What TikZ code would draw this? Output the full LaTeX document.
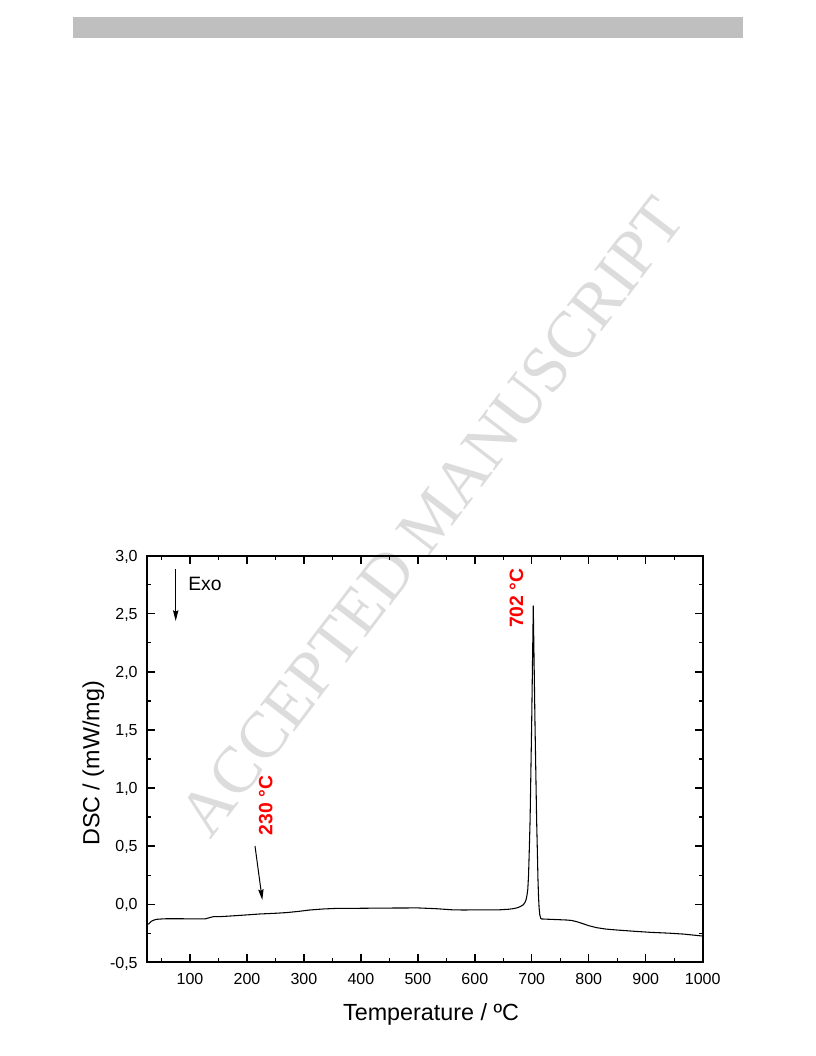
\documentclass[tikz,border=0pt]{standalone}
\usepackage{fontspec}
\setmainfont{Liberation Sans}
\newfontfamily\wmfont{Liberation Serif}
\usetikzlibrary{arrows.meta}
\definecolor{barg}{RGB}{191,191,191}
\definecolor{wmg}{RGB}{220,220,220}
\definecolor{lblred}{RGB}{255,0,0}
\tikzset{
  wmtext/.style={font=\wmfont\fontsize{49.5}{50}\selectfont, text=wmg, rotate=52.5, inner sep=0pt},
  frameline/.style={line width=1.45pt},
  tickline/.style={line width=1pt},
  curveline/.style={line width=0.8pt, line join=round},
  arrline/.style={line width=0.75pt, -{Stealth[length=8pt,width=4pt,inset=1pt]}},
  xtl/.style={font=\fontsize{12}{12}\selectfont, anchor=north, inner sep=0pt},
  ytl/.style={font=\fontsize{12}{12}\selectfont, anchor=base east, inner sep=0pt},
  axlabel/.style={font=\fontsize{17.5}{18}\selectfont, anchor=base, inner sep=0pt},
  redlabel/.style={font=\bfseries\fontsize{14.5}{15}\selectfont, text=lblred, rotate=90, anchor=base, inner sep=0pt},
  exolabel/.style={font=\fontsize{14.5}{15}\selectfont, anchor=base west, inner sep=0pt}
}
\begin{document}
\begin{tikzpicture}[x=0.75pt,y=-0.75pt]
\useasboundingbox (0,0) rectangle (816,1056);
\fill[white] (0,0) rectangle (816,1056);
% watermark
\node[wmtext] (wm) at (432,517) {ACCEPTED MANUSCRIPT};
% top bar
\fill[barg] (73,17) rectangle (743,38);
% plot in data coordinates
\begin{scope}[shift={(99.7725pt,-678.15pt)}, x={(0.42725pt,0pt)}, y={(0pt,87.1275pt)}]
  \draw[frameline] (24,-0.5) rectangle (1000,3);
  \foreach \t in {100,200,...,900} {
    \draw[tickline] (\t,-0.5) -- ++(0pt,6pt);
    \draw[tickline] (\t,3) -- ++(0pt,-6pt);
  }
  \foreach \t in {50,150,...,950} {
    \draw[tickline] (\t,-0.5) -- ++(0pt,3pt);
    \draw[tickline] (\t,3) -- ++(0pt,-3pt);
  }
  \foreach \v in {0,0.5,1,1.5,2,2.5} {
    \draw[tickline] (24,\v) -- ++(6pt,0pt);
    \draw[tickline] (1000,\v) -- ++(-6pt,0pt);
  }
  \foreach \v in {-0.25,0.25,0.75,1.25,1.75,2.25,2.75} {
    \draw[tickline] (24,\v) -- ++(3pt,0pt);
    \draw[tickline] (1000,\v) -- ++(-3pt,0pt);
  }
  \foreach \t in {100,200,...,1000} {
    \node[xtl] (xl\t) at ([yshift=-7.8pt]\t,-0.5) {\t};
  }
  \foreach \v/\l [count=\i] in {-0.5/{-0,5},0/{0,0},0.5/{0,5},1/{1,0},1.5/{1,5},2/{2,0},2.5/{2,5},3/{3,0}} {
    \node[ytl] (yl\i) at ([xshift=-6.6pt,yshift=-4.3pt]24,\v) {\l};
  }
  \draw[curveline] plot coordinates {
    (26.8,-0.173) (29,-0.162) (32.8,-0.145) (37,-0.136) (41.6,-0.130) (50,-0.127)
    (59,-0.125) (80,-0.125) (100,-0.126) (126,-0.127) (132,-0.119) (141,-0.107)
    (153,-0.107) (176,-0.100) (200,-0.092) (223,-0.084) (250,-0.078) (270,-0.072)
    (290,-0.062) (310,-0.050) (334,-0.041) (357,-0.036) (400,-0.035) (450,-0.033)
    (500,-0.032) (530,-0.038) (560,-0.048) (580,-0.050) (610,-0.048) (644,-0.048)
    (660,-0.043) (668,-0.038) (675,-0.030) (680,-0.020) (685,-0.005) (688,0.015)
    (690,0.04) (691.5,0.075) (693,0.13) (694.3,0.25) (695.5,0.45) (697,0.72)
    (699.8,1.56) (702.6,2.567) (705.6,1.56) (708.5,0.72) (709.8,0.45) (710.8,0.22)
    (711.8,0.07) (712.8,-0.03) (714,-0.09) (715.6,-0.121) (717.4,-0.127)
    (732,-0.130) (761,-0.136) (770,-0.140)
    (780,-0.152) (790,-0.168) (800,-0.185) (814,-0.202) (830,-0.214) (849,-0.222)
    (880,-0.233) (908,-0.242) (940,-0.249) (966,-0.257) (1000,-0.274)
  };
\end{scope}
% axis labels
\node[axlabel] (xlab) at (431,1020) {Temperature / ºC};
\node[axlabel, rotate=90] (ylab) at (99.3,763.5) {DSC / (mW/mg)};
% Exo arrow
\coordinate (exoS) at (175.7,569);
\coordinate (exoE) at (175.7,621);
\draw[arrline] (exoS) -- (exoE);
\node[exolabel] (exo) at (188,590.5) {Exo};
% peak labels
\node[redlabel] (l702) at (523,598.3) {702 °C};
\node[redlabel] (l230) at (272.3,805.5) {230 °C};
\coordinate (a230S) at (255,846);
\coordinate (a230E) at (262.3,900);
\draw[arrline] (a230S) -- (a230E);
\end{tikzpicture}
\end{document}
